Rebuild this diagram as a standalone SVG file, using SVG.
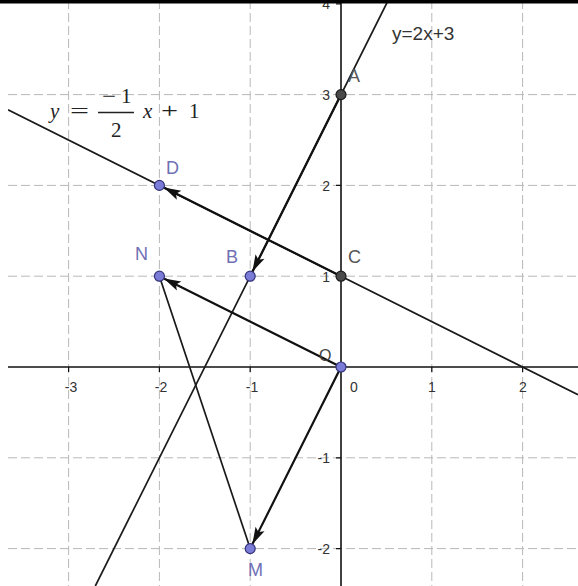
<svg xmlns="http://www.w3.org/2000/svg" width="578" height="586" viewBox="0 0 578 586">
<style>
.grid{stroke:#b8b8b8;stroke-width:1;stroke-dasharray:9 4;fill:none}
.axis{stroke:#111;stroke-width:1.6;fill:none}
.tick{stroke:#111;stroke-width:1.2}
.num{font-family:"Liberation Sans",Arial,sans-serif;font-size:14px;fill:#333}
.line{stroke:#1a1a1a;stroke-width:1.7;fill:none}
.vec{stroke:#111;stroke-width:2.2;fill:none;marker-end:url(#arr)}
.pb{fill:#7b7bd8;stroke:#34347a;stroke-width:1.2}
.pd{fill:#4a4a4a;stroke:#1a1a1a;stroke-width:1.2}
.lb{font-family:"Liberation Sans",Arial,sans-serif;font-size:18px;fill:#7070b4}
.ld{font-family:"Liberation Sans",Arial,sans-serif;font-size:18px;fill:#555}
.tex{font-family:"Liberation Serif","Times New Roman",serif;font-size:21px;fill:#222}
</style>
<defs>
<clipPath id="plot"><rect x="8" y="0" width="570" height="586"/></clipPath>
<marker id="arr" markerUnits="userSpaceOnUse" markerWidth="20" markerHeight="12" viewBox="0 0 20 12" refX="18" refY="6" orient="auto" overflow="visible">
<path d="M18,6 L1,1 L4.5,6 L1,11 Z" fill="#111"/>
</marker>
</defs>
<rect x="0" y="0" width="578" height="586" fill="#fff"/>
<g id="grid" clip-path="url(#plot)">
<line class="grid" x1="68.6" y1="0" x2="68.6" y2="586"/>
<line class="grid" x1="159.4" y1="0" x2="159.4" y2="586"/>
<line class="grid" x1="250.2" y1="0" x2="250.2" y2="586"/>
<line class="grid" x1="431.8" y1="0" x2="431.8" y2="586"/>
<line class="grid" x1="522.6" y1="0" x2="522.6" y2="586"/>
<line class="grid" x1="8" y1="94.6" x2="578" y2="94.6"/>
<line class="grid" x1="8" y1="185.4" x2="578" y2="185.4"/>
<line class="grid" x1="8" y1="276.2" x2="578" y2="276.2"/>
<line class="grid" x1="8" y1="457.8" x2="578" y2="457.8"/>
<line class="grid" x1="8" y1="548.6" x2="578" y2="548.6"/>
</g>
<g id="axes">
<line class="axis" x1="8" y1="367" x2="578" y2="367"/>
<line class="axis" x1="341" y1="0" x2="341" y2="586"/>
<path class="tick" d="M68.6,367v5M159.4,367v5M250.2,367v5M431.8,367v5M522.6,367v5M336,3.8h5M336,94.6h5M336,185.4h5M336,276.2h5M336,457.8h5M336,548.6h5"/>
<text class="num" x="71" y="392" text-anchor="middle">-3</text>
<text class="num" x="161" y="392" text-anchor="middle">-2</text>
<text class="num" x="252" y="392" text-anchor="middle">-1</text>
<text class="num" x="350" y="392">0</text>
<text class="num" x="432" y="392" text-anchor="middle">1</text>
<text class="num" x="523" y="392" text-anchor="middle">2</text>
<text class="num" x="330" y="9" text-anchor="end">4</text>
<text class="num" x="330" y="100" text-anchor="end">3</text>
<text class="num" x="330" y="191" text-anchor="end">2</text>
<text class="num" x="330" y="282" text-anchor="end">1</text>
<text class="num" x="330" y="463" text-anchor="end">-1</text>
<text class="num" x="330" y="554" text-anchor="end">-2</text>
</g>
<g id="connectors" clip-path="url(#plot)">
<line id="line1" class="line" x1="388.3" y1="0" x2="95.3" y2="586"/>
<line id="line2" class="line" x1="8" y1="109.7" x2="578" y2="394.7"/>
<line id="vAB" class="vec" x1="341" y1="94.6" x2="252.4" y2="271.7"/>
<line id="vCD" class="vec" x1="341" y1="276.2" x2="163.9" y2="187.6"/>
<line id="vON" class="vec" x1="341" y1="367" x2="163.9" y2="278.4"/>
<line id="vOM" class="vec" x1="341" y1="367" x2="252.4" y2="544.1"/>
<line id="sNM" class="line" x1="159.4" y1="276.2" x2="250.2" y2="548.6"/>
</g>
<g id="eq1">
<text x="392" y="39.5" style="font-family:'Liberation Sans',Arial,sans-serif;font-size:19px;fill:#333">y=2x+3</text>
</g>
<g id="eq2">
<text class="tex" x="50" y="118" font-style="italic">y</text>
<text class="tex" x="70" y="118" textLength="19" lengthAdjust="spacingAndGlyphs">=</text>
<text class="tex" x="102" y="103" textLength="14" lengthAdjust="spacingAndGlyphs">−</text>
<text class="tex" x="121" y="103">1</text>
<line x1="98" y1="112.5" x2="134" y2="112.5" stroke="#222" stroke-width="1.3"/>
<text class="tex" x="111" y="137">2</text>
<text class="tex" x="143" y="118" font-style="italic">x</text>
<text class="tex" x="161" y="118" textLength="17" lengthAdjust="spacingAndGlyphs">+</text>
<text class="tex" x="189" y="118">1</text>
</g>
<g id="A"><circle class="pd" cx="341" cy="94.6" r="5"/><text class="ld" x="348" y="82">A</text></g>
<g id="C"><circle class="pd" cx="341" cy="276.2" r="5"/><text class="ld" x="348" y="263">C</text></g>
<g id="D"><circle class="pb" cx="159.4" cy="185.4" r="5"/><text class="lb" x="166" y="174">D</text></g>
<g id="B"><circle class="pb" cx="250.2" cy="276.2" r="5"/><text class="lb" x="226" y="263">B</text></g>
<g id="N"><circle class="pb" cx="159.4" cy="276.2" r="5"/><text class="lb" x="135" y="260">N</text></g>
<g id="M"><circle class="pb" cx="250.2" cy="548.6" r="5"/><text class="lb" x="248" y="576">M</text></g>
<g id="O"><circle class="pb" cx="341" cy="367" r="5"/><text class="ld" x="319" y="361" style="font-size:16px;fill:#444">O</text></g>
<rect x="0" y="0" width="578" height="3.5" fill="#000"/>
</svg>
